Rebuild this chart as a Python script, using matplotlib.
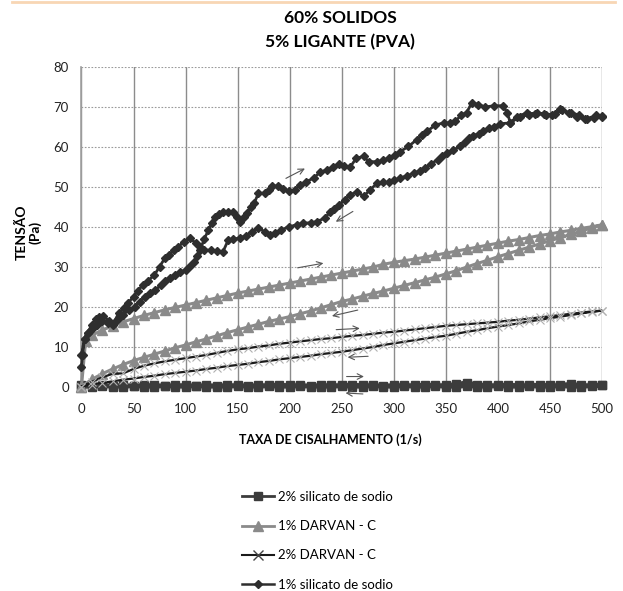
import numpy as np
import matplotlib
matplotlib.use("Agg")
from matplotlib import pyplot as plt
from matplotlib.lines import Line2D

plt.rcParams['font.family'] = ['Lato', 'DejaVu Sans']

# shear rate grid for the Darvan / 2% silicato sweeps
taxa = list(range(0, 501, 10))

# 2% silicato de sodio (up and down, both near zero)
sil2_up = [0.3, 0.2, 0.3, 0.2, 0.3, 0.2, 0.3, 0.3, 0.2, 0.3, 0.3, 0.2, 0.3, 0.2, 0.3, 0.3,
           0.2, 0.3, 0.3, 0.4, 0.3, 0.3, 0.2, 0.3, 0.3, 0.3, 0.4, 0.3, 0.3, 0.2, 0.3, 0.3,
           0.3, 0.4, 0.3, 0.3, 0.6, 1.0, 0.5, 0.3, 0.3, 0.4, 0.3, 0.3, 0.4, 0.3, 0.3, 0.7,
           0.3, 0.3, 0.3]
sil2_down = [0.0, 0.0, 0.1, 0.0, 0.0, 0.1, 0.0, 0.0, 0.1, 0.0, 0.0, 0.1, 0.0, 0.0, 0.0, 0.1,
             0.0, 0.0, 0.1, 0.0, 0.0, 0.1, 0.0, 0.0, 0.0, 0.1, 0.0, 0.0, 0.1, 0.0, 0.0, 0.1,
             0.0, 0.0, 0.1, 0.0, 0.0, 0.1, 0.0, 0.0, 0.1, 0.0, 0.0, 0.1, 0.0, 0.0, 0.1, 0.0,
             0.0, 0.1, 0.3]

# 1% DARVAN - C
darv1_x_up = [0, 4] + taxa[1:]
darv1_up = [0, 11.5, 12.8, 14.2, 15.1, 16.2, 17.0, 17.8, 18.5, 19.2, 19.8, 20.4, 21.0, 21.6,
            22.2, 22.8, 23.4, 23.9, 24.4, 24.9, 25.4, 25.9, 26.4, 26.9, 27.4, 27.9, 28.4,
            28.9, 29.4, 29.9, 30.6, 31.1, 31.5, 31.9, 32.4, 32.9, 33.4, 33.9, 34.4, 34.9,
            35.4, 35.9, 36.4, 36.8, 37.3, 37.8, 38.2, 38.7, 39.1, 39.6, 40.0, 40.5]
darv1_down = [0, 1.8, 3.2, 4.4, 5.5, 6.5, 7.3, 8.1, 8.9, 9.7, 10.4, 11.2, 11.9, 12.7, 13.5,
              14.2, 14.9, 15.6, 16.3, 16.9, 17.5, 18.2, 18.9, 19.7, 20.5, 21.3, 21.9, 22.6,
              23.3, 23.9, 24.6, 25.3, 26.0, 26.7, 27.4, 28.2, 29.0, 29.9, 30.8, 31.6, 32.5,
              33.3, 34.1, 34.9, 35.7, 36.5, 37.3, 38.1, 38.9, 39.7, 40.5]

# 2% DARVAN - C
darv2_up = [0, 1.2, 2.3, 3.2, 3.3, 4.4, 5.2, 5.8, 6.3, 6.7, 7.1, 7.5, 7.9, 8.4, 8.9, 9.3,
            9.6, 10.0, 10.3, 10.7, 11.0, 11.3, 11.6, 11.9, 12.1, 12.4, 12.7, 12.9, 13.2,
            13.5, 13.7, 14.0, 14.3, 14.6, 14.9, 15.2, 15.4, 15.6, 15.8, 16.0, 16.2, 16.5,
            16.7, 17.0, 17.3, 17.6, 17.9, 18.2, 18.5, 18.8, 19.0]
darv2_down = [0, 0.5, 0.9, 1.3, 1.7, 2.0, 2.4, 2.7, 3.1, 3.4, 3.7, 4.0, 4.4, 4.7, 5.1, 5.4,
              5.7, 6.1, 6.4, 6.8, 7.1, 7.4, 7.7, 8.1, 8.4, 8.7, 9.1, 9.5, 9.9, 10.4, 10.8,
              11.2, 11.6, 12.0, 12.4, 12.7, 13.2, 13.7, 14.1, 14.6, 15.0, 15.4, 15.8, 16.3,
              16.7, 17.1, 17.5, 17.9, 18.3, 18.7, 19.0]

# 1% silicato de sodio, ascending branch
sil1_x_up = [0, 1, 3, 6, 10, 15, 20, 25, 30, 35, 40, 46, 51, 56, 61, 66, 71, 76, 80, 85, 90,
             95, 100, 104, 108, 111, 114, 118, 122, 125, 128, 132, 136, 141, 146, 149, 152,
             156, 159, 163, 166, 170, 176, 180, 183, 189, 194, 199, 205, 210, 216, 223, 229,
             236, 242, 247, 252, 258, 264, 271, 276, 284, 290, 295, 301, 306, 314, 322, 327,
             332, 340, 348, 354, 359, 365, 370, 375, 381, 388, 396, 405, 409, 412, 418, 428,
             436, 444, 452, 460, 468, 476, 484, 492, 500]
sil1_up = [4.8, 8.0, 12.0, 13.5, 14.5, 15.5, 16.5, 16.0, 15.5, 17.0, 18.0, 19.2, 20.0, 21.2,
           22.5, 23.3, 24.2, 25.3, 26.3, 27.2, 27.9, 28.6, 29.2, 30.3, 31.3, 32.8, 34.2, 37.0,
           39.2, 41.0, 42.5, 43.2, 43.8, 43.8, 43.8, 42.5, 41.3, 42.5, 43.4, 45.0, 46.0, 48.4,
           48.4, 49.3, 50.2, 50.2, 49.5, 48.9, 49.2, 50.5, 51.3, 52.2, 53.6, 54.3, 54.9, 55.8,
           55.3, 54.9, 57.2, 57.6, 56.3, 56.3, 56.6, 57.2, 58.0, 58.8, 60.1, 61.8, 62.9, 63.9,
           65.5, 66.0, 66.0, 66.4, 68.0, 68.6, 71.1, 70.6, 70.0, 70.3, 70.3, 68.5, 66.0, 67.6,
           68.5, 68.2, 68.3, 68.0, 69.5, 68.4, 67.5, 67.0, 67.3, 67.8]

# 1% silicato de sodio, descending branch
sil1_x_down = [500, 494, 486, 478, 470, 462, 455, 446, 438, 430, 421, 412, 402, 396, 391, 386,
               382, 376, 372, 368, 364, 357, 351, 346, 342, 336, 330, 325, 319, 313, 306, 300,
               295, 290, 284, 277, 271, 265, 258, 253, 247, 243, 239, 234, 226, 220, 213, 207,
               199, 192, 186, 181, 176, 170, 164, 158, 152, 146, 141, 136, 130, 124, 118, 114,
               110, 104, 98, 93, 89, 84, 80, 75, 70, 64, 59, 54, 50, 45, 41, 36, 31, 26, 21,
               17, 14, 10, 6, 3, 0]
sil1_down = [67.5, 68.0, 67.0, 68.0, 68.5, 69.2, 68.3, 68.0, 68.5, 68.0, 67.6, 66.0, 65.8,
             65.0, 64.7, 64.0, 63.3, 62.8, 62.2, 61.2, 60.1, 59.2, 58.4, 57.6, 56.8, 55.8,
             54.7, 54.0, 53.4, 52.8, 52.2, 51.6, 51.1, 51.1, 50.9, 49.2, 47.6, 48.8, 48.0,
             46.7, 45.5, 44.5, 43.8, 42.2, 41.3, 41.0, 40.9, 40.5, 40.0, 39.2, 38.5, 38.0,
             38.8, 39.6, 38.8, 37.8, 37.1, 37.0, 36.7, 33.8, 33.9, 34.1, 34.2, 35.0, 35.9,
             37.1, 36.2, 35.0, 34.2, 33.0, 32.1, 30.0, 27.9, 26.5, 25.4, 24.0, 22.5, 21.0,
             19.6, 18.5, 16.0, 16.5, 17.7, 17.5, 17.0, 15.5, 13.5, 12.0, 8.0]

labels = ["2% silicato de sodio", "1% DARVAN - C", "2% DARVAN - C", "1% silicato de sodio"]

fig = plt.figure(figsize=(6.23, 5.91), dpi=100)
ax = fig.add_axes([0.1308, 0.346, 0.8355, 0.5406])

# silicato 2%
ax.plot(taxa + taxa[::-1], sil2_up + sil2_down[::-1], color="#3c3c3c", lw=3,
        marker="s", ms=5.5, clip_on=False, zorder=3)
# darvan 1%
ax.plot(darv1_x_up + taxa[::-1], darv1_up + darv1_down[::-1], color="#8a8a8a", lw=2.2,
        marker="^", ms=6.5, clip_on=False, zorder=4)
# darvan 2%
ax.plot(taxa + taxa[::-1], darv2_up + darv2_down[::-1], color="#1a1a1a", lw=1.6,
        marker="x", ms=5.5, mec="#b0b0b0", mew=0.8, clip_on=False, zorder=5)
# silicato 1%
ax.plot(sil1_x_up + sil1_x_down, sil1_up + sil1_down, color="#2e2e2e", lw=2,
        marker="D", ms=4.5, clip_on=False, zorder=6)

# direction arrows
arrows = [((194, 51.8), (217, 54.9)), ((263, 44.2), (242, 40.9)),
          ((205, 29.6), (235, 31.0)), ((268, 19.3), (238, 17.5)),
          ((242, 14.2), (270, 14.6)), ((278, 7.6), (253, 7.3)),
          ((252, 2.5), (274, 2.5)), ((273, -1.9), (251, -1.6))]
for start, end in arrows:
    ax.annotate("", xy=end, xytext=start, annotation_clip=False,
                arrowprops=dict(arrowstyle="->", color="#555555", lw=0.8), zorder=7)

ax.set_xlim(0, 500)
ax.set_ylim(0, 80)
ax.set_xticks(np.arange(0, 501, 50))
ax.set_yticks(np.arange(0, 81, 10))
ax.tick_params(length=0, labelsize=9.5, colors="#222222")
ax.tick_params(axis="x", pad=12)
ax.tick_params(axis="y", pad=9)
ax.xaxis.grid(True, color="#8c8c8c", lw=1)
ax.yaxis.grid(True, color="#9a9a9a", lw=0.8, ls=(0, (1.5, 1.5)))
ax.set_axisbelow(True)
for s in ["top", "right"]:
    ax.spines[s].set_visible(False)
for s in ["left", "bottom"]:
    ax.spines[s].set_color("#a0a0a0")
    ax.spines[s].set_linewidth(1.2)

fig.text(0.546, 0.970, "60% SOLIDOS", ha="center", va="center", fontsize=12.5, fontweight="bold")
fig.text(0.546, 0.929, "5% LIGANTE (PVA)", ha="center", va="center", fontsize=12.5, fontweight="bold")
fig.text(0.046, 0.607, "TENSÃO\n(Pa)", ha="center", va="center", rotation=90,
         fontsize=10, fontweight="bold", multialignment="center", linespacing=1.15)
fig.text(0.531, 0.2555, "TAXA DE CISALHAMENTO (1/s)", ha="center", va="center",
         fontsize=9, fontweight="bold")

# peach rule at the top of the picture
fig.add_artist(Line2D([0.02, 0.987], [0.996, 0.996], color="#f8d6b4", lw=2))

handles = [Line2D([], [], color="#3c3c3c", lw=2, marker="s", ms=5.5),
           Line2D([], [], color="#8a8a8a", lw=2, marker="^", ms=6.5),
           Line2D([], [], color="#1a1a1a", lw=1.5, marker="x", ms=6.5, mec="#444444"),
           Line2D([], [], color="#2e2e2e", lw=1.8, marker="D", ms=4.5)]
fig.legend(handles, labels, loc="upper left", bbox_to_anchor=(0.38, 0.178),
           frameon=False, fontsize=9.5, handlelength=2.4, handletextpad=0.3,
           labelspacing=1.3, borderaxespad=0)

fig.savefig("out.png", dpi=100)
